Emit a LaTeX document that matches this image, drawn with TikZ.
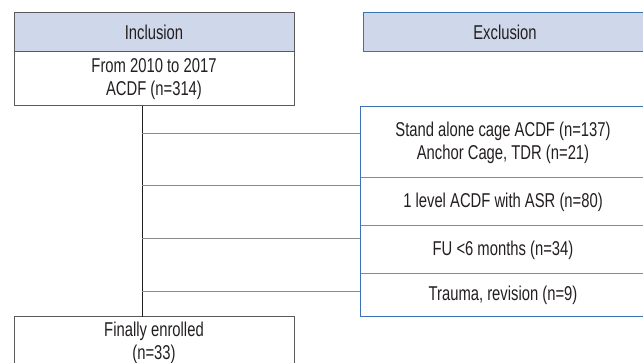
\documentclass[tikz,border=0pt]{standalone}
\usepackage{fontspec}
\setmainfont[FakeStretch=0.74]{Liberation Sans}
\definecolor{hdrfill}{HTML}{CFD8EA}
\definecolor{incborder}{HTML}{5A5A5A}
\definecolor{exborder}{HTML}{3B72B4}
\definecolor{divider}{HTML}{8A8A8A}
\definecolor{txt}{HTML}{231F20}
\begin{document}
\begin{tikzpicture}[x=1pt,y=-1pt,
  every node/.style={inner sep=0pt,outer sep=0pt,text=txt,
    font=\fontsize{20}{23}\selectfont,align=center},
  incbox/.style={draw=incborder,line width=1pt,rectangle,minimum width=280pt},
  hdrbox/.style={fill=hdrfill,minimum height=39pt},
  exbox/.style={rectangle,minimum width=286pt},
  conn/.style={draw=divider,line width=1pt},
  vconn/.style={draw=txt,line width=1pt}]
\useasboundingbox (0,0) rectangle (643,363);
% Inclusion
\node[incbox,hdrbox] (inch) at (154,32.5) {Inclusion};
\node[incbox,minimum height=54pt] (incb) at (154,79) {From 2010 to 2017\\ACDF (n=314)};
% Exclusion header
\node[exbox,hdrbox,draw=exborder,line width=1pt,minimum width=284pt] (exh) at (505,32.5) {Exclusion};
% Exclusion stack
\node[exbox,minimum height=71pt] (ex1) at (503,142.5) {Stand alone cage ACDF (n=137)\\Anchor Cage, TDR (n=21)};
\node[exbox,minimum height=48pt] (ex2) at (503,202) {1 level ACDF with ASR (n=80)};
\node[exbox,minimum height=48pt] (ex3) at (503,250) {FU {<}6 months (n=34)};
\node[exbox,minimum height=43pt] (ex4) at (503,295.5) {Trauma, revision (n=9)};
\draw[conn] (ex1.south west) -- (ex1.south east);
\draw[conn] (ex2.south west) -- (ex2.south east);
\draw[conn] (ex3.south west) -- (ex3.south east);
\draw[draw=exborder,line width=1pt] (ex1.north west) rectangle (ex4.south east);
% Finally enrolled
\node[incbox,minimum height=70pt,anchor=north] (fin) at (154,317) {};
\node (fint) at (154,343) {Finally enrolled\\(n=33)};
% connectors
\coordinate (vtop) at (142,106);
\coordinate (vbot) at (142,317);
\coordinate (h1) at (142,134);
\coordinate (h2) at (142,186);
\coordinate (h3) at (142,239);
\coordinate (h4) at (142,292);
\draw[vconn] (vtop) -- (vbot);
\draw[conn] (h1) -- (h1 -| ex1.west);
\draw[conn] (h2) -- (h2 -| ex1.west);
\draw[conn] (h3) -- (h3 -| ex1.west);
\draw[conn] (h4) -- (h4 -| ex1.west);
\end{tikzpicture}
\end{document}
